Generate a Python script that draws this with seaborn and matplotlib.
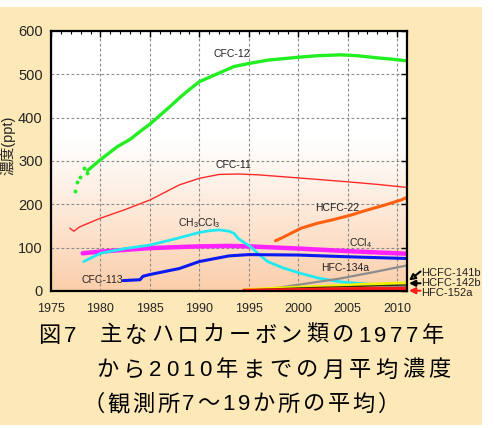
import numpy as np
import pandas as pd
import matplotlib
matplotlib.use("Agg")
import matplotlib.pyplot as plt
from matplotlib.patches import Rectangle
from matplotlib.ticker import MultipleLocator
from matplotlib.font_manager import FontProperties
import seaborn as sns

# ---- monthly-mean concentrations (ppt), read at selected dates ----
cfc12_early_years = [1977.43, 1977.6, 1977.9, 1978.3, 1978.6]
cfc12_early = [231, 252, 264, 285, 272]
cfc12_years = [1978.7, 1980, 1981.7, 1983, 1984, 1985, 1986, 1987.1, 1988.1, 1989,
               1990, 1991.5, 1993.5, 1995, 1997, 2000.3, 2002, 2004.3, 2006, 2008,
               2009.5, 2011]
cfc12 = [278, 303, 333, 350, 368, 385, 405, 427, 448, 465,
         483, 498, 518, 525, 533, 540, 543, 545, 543, 538, 535, 531]

cfc11_years = [1976.9, 1977.3, 1977.9, 1980, 1982.5, 1985, 1988, 1990, 1992, 1994,
               1996, 2000, 2005, 2008, 2011]
cfc11 = [145, 138, 148, 168, 188, 210, 245, 260, 269, 270, 268, 261, 252, 246, 239]

ccl4_years = [1978.2, 1980, 1985, 1990, 1993, 1995, 2000, 2005, 2008, 2011]
ccl4 = [87, 91, 99, 103, 104, 103, 98, 92, 89, 86]

ch3ccl3_years = [1978.3, 1980, 1982.5, 1985, 1987.5, 1990, 1991, 1992, 1993, 1993.5,
                 1994, 1995.2, 1996, 1996.9, 1998.5, 2000.2, 2002, 2004.3, 2007, 2011]
ch3ccl3 = [68, 87, 98, 106, 120, 135, 139, 141, 138, 133,
           120, 102, 85, 68, 53, 41, 30, 21, 16, 9]

cfc113_years = [1982.3, 1984, 1984.3, 1985, 1988, 1990, 1993, 1995, 2000, 2005, 2011]
cfc113 = [24, 26, 34, 38, 52, 68, 81, 84, 83, 79, 75]

hcfc22_years = [1997.7, 1998.3, 1998.9, 2000.3, 2001.9, 2003.6, 2005.3, 2007, 2008.7,
                2010.4, 2011]
hcfc22 = [116, 122, 129, 145, 156, 165, 175, 187, 198, 210, 216]

hfc134a_years = [1994.5, 1996.2, 2000.2, 2004.3, 2007.5, 2011]
hfc134a = [0.5, 2, 15, 29, 43, 59]

hcfc141b_years = [1994.5, 1998, 2002.6, 2006, 2011]
hcfc141b = [3, 7, 11, 15, 19]

hcfc142b_years = [1994.5, 2000, 2005, 2011]
hcfc142b = [2, 7, 10, 14]

hfc152a_years = [1994.5, 2000, 2005, 2011]
hfc152a = [0.5, 2, 4, 6]

x_ticks = [1975, 1980, 1985, 1990, 1995, 2000, 2005, 2010]
y_ticks = [0, 100, 200, 300, 400, 500, 600]

title_lines = ["図7  主なハロカーボン類の1977年",
               "から2010年までの月平均濃度",
               "（観測所7～19か所の平均）"]

sns.set_style("white")
plt.rcParams["font.family"] = ["Liberation Sans", "Noto Sans CJK JP"]
plt.rcParams["mathtext.default"] = "regular"

W, H = 494, 428
fig = plt.figure(figsize=(W / 100, H / 100), dpi=100)
fig.patch.set_facecolor("white")
fig.patches.append(Rectangle((0, 3 / H), 482 / W, (425 - 7) / H,
                             transform=fig.transFigure, facecolor="#FDE8B7",
                             edgecolor="none", zorder=-10))

ax = fig.add_axes([51 / W, (H - 291) / H, (407 - 51) / W, (291 - 31) / H])

# vertical white-to-peach backdrop inside the plot
levels = np.linspace(600, 0, 300)
t = np.clip((360 - levels) / 360, 0, 1) ** 1.1
top_c = np.array([1.0, 1.0, 1.0])
bot_c = np.array([251, 206, 170]) / 255
grad = top_c[None, :] * (1 - t[:, None]) + bot_c[None, :] * t[:, None]
ax.imshow(grad[:, None, :], extent=[1975, 2011, 0, 600], aspect="auto",
          interpolation="bilinear", zorder=0)


def draw(xs, ys, color, lw):
    sns.lineplot(x=xs, y=ys, ax=ax, color=color, linewidth=lw,
                 estimator=None, sort=False, zorder=3)


draw(cfc12_years, cfc12, "#22EE22", 2.4)
sns.scatterplot(x=cfc12_early_years, y=cfc12_early, ax=ax, color="#22EE22",
                s=8, linewidth=0, zorder=3)
draw(cfc11_years, cfc11, "#FF2A2A", 1.0)
draw(ccl4_years, ccl4, "#FF22FF", 3.2)
draw(ch3ccl3_years, ch3ccl3, "#22E8F0", 2.0)
draw(cfc113_years, cfc113, "#0A1AF0", 2.2)
draw(hcfc22_years, hcfc22, "#FF6010", 2.2)
draw(hfc134a_years, hfc134a, "#8C8C8C", 1.6)
draw(hcfc141b_years, hcfc141b, "#F2F200", 2.0)
draw(hcfc142b_years, hcfc142b, "#333300", 1.0)
draw(hfc152a_years, hfc152a, "#FF1A1A", 3.0)

ax.set_xlim(1975, 2011)
ax.set_ylim(0, 600)
ax.set_xticks(x_ticks)
ax.set_yticks(y_ticks)
ax.xaxis.set_minor_locator(MultipleLocator(1))
ax.tick_params(axis="both", which="both", direction="in", top=True, right=True,
               color="black")
ax.tick_params(axis="both", which="major", length=4, width=1)
ax.tick_params(axis="x", which="minor", length=2.5, width=0.8)
ax.tick_params(axis="x", labelsize=9, pad=9)
ax.tick_params(axis="y", labelsize=10.5, pad=6)
ax.grid(True, which="major", color="#8A8A8A", linestyle=(0, (2.5, 2)), linewidth=0.8)
ax.set_axisbelow(True)
for s in ax.spines.values():
    s.set_linewidth(1.6)
    s.set_color("black")
    s.set_zorder(5)
ax.set_xlabel("")
ax.set_ylabel("")

fig.text(8 / W, 1 - 145 / H, "濃度(ppt)", rotation=90, ha="center", va="center",
         fontsize=10.5)

# series labels inside the plot
lab = dict(fontsize=7.5, ha="center", va="center", color="#222222", zorder=6)
ax.text(1993.3, 547, "CFC-12", **lab)
ax.text(1993.4, 291, "CFC-11", **lab)
ax.text(1990.0, 157, "CH$_3$CCl$_3$", **lab)
ax.text(2003.9, 192, "HCFC-22", **lab)
ax.text(2006.3, 111, "CCl$_4$", **lab)
ax.text(2004.7, 53, "HFC-134a", **lab)
ax.text(1980.2, 25, "CFC-113", **lab)


# labels for the small species, right of the plot
def px(x, y):
    return (x / W, 1 - y / H)


def side_arrow(tail, head, color, face):
    ax.annotate("", xy=px(*head), xytext=px(*tail),
                xycoords="figure fraction", textcoords="figure fraction",
                arrowprops=dict(arrowstyle="-|>", color=color, fc=face, lw=1.5,
                                mutation_scale=9, shrinkA=0, shrinkB=0))


side_arrow((420.5, 271.5), (409, 280.5), "black", "#E0E000")
side_arrow((420.5, 283.3), (409, 283.3), "black", "black")
side_arrow((420.5, 290.7), (409, 290.7), "#FF1A1A", "#FF1A1A")
for yy, name in [(273, "HCFC-141b"), (282.5, "HCFC-142b"), (292.5, "HFC-152a")]:
    fig.text(421.5 / W, 1 - yy / H, name, fontsize=8, ha="left", va="center",
             color="#222222")

# caption, spread across a fixed width per line
renderer = fig.canvas.get_renderer()
cap_fp = FontProperties(family=["Liberation Sans", "Noto Sans CJK JP"], size=16)


def spread_line(text, x0, x1, y):
    widths = []
    for ch in text:
        w, _, _ = renderer.get_text_width_height_descent(ch, cap_fp, ismath=False)
        widths.append(w)
    extra = (x1 - x0 - sum(widths)) / (len(text) - 1)
    x = x0
    for ch, w in zip(text, widths):
        fig.text(x / W, 1 - y / H, ch, fontproperties=cap_fp, ha="left",
                 va="center", color="black")
        x += w + extra


spread_line(title_lines[0], 38, 444, 336)
spread_line(title_lines[1], 96, 451, 371)
spread_line(title_lines[2], 82, 400, 405)

fig.savefig("out.png", dpi=100)
